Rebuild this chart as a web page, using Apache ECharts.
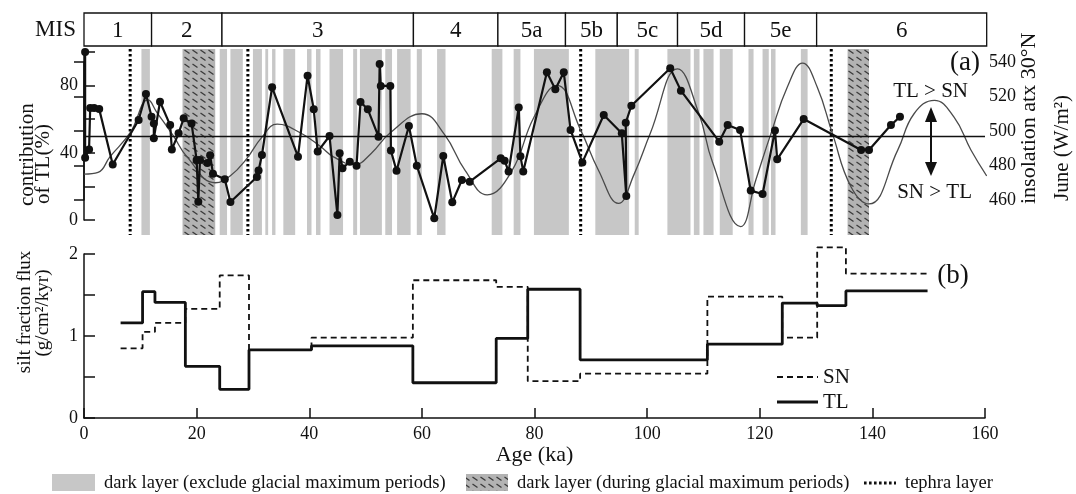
<!DOCTYPE html>
<html><head><meta charset="utf-8">
<script src="https://cdn.jsdelivr.net/npm/echarts@6/dist/echarts.min.js"></script>
<style>html,body{margin:0;padding:0;background:#fff}#c{width:1076px;height:494px}</style>
</head><body><div id="c"></div>
<script>
// ---------------- data ----------------
const misBounds = [0, 12, 24.5, 58.5, 73.5, 85.5, 94.7, 105.4, 117.3, 130.1, 160.3];
const misLabels = ['1','2','3','4','5a','5b','5c','5d','5e','6'];
const grayBands = [[10.2,11.7],[24.1,25.4],[26,28.2],[30,31.6],[32.2,32.7],[33.4,34],[35.4,37.5],[39.6,40.4],[41.2,42],[43.6,46],[47.8,48.5],[49,52.9],[53.5,54.7],[55.6,58],[59.1,60],[62.7,64.2],[72.4,74.3],[76.3,77.5],[79.9,86.1],[90.8,96.8],[97.8,98.5],[103.6,107.7],[108.3,109.3],[110,111.8],[112.9,115.2],[118,118.9],[120.5,121.6],[122,122.8],[127.3,128.5]];
const hatchBands = [[17.5,23.3],[135.6,139.4]];
const tephraAges = [8.2, 29.1, 88.2, 132.7];
const tlContribution = [[0.2,100],[0.2,37],[0.9,42],[1.1,66.7],[1.8,66.7],[2.7,66],[5.1,33],[9.7,59.5],[11,75],[12,61.5],[12.4,57.5],[12.4,48.6],[13.5,70.4],[15.3,56.5],[15.6,42],[16.8,51.6],[17.7,60.5],[19.1,57.5],[20,35.7],[20.3,10.9],[20.6,35.7],[21.9,34],[22.4,38.5],[22.9,27.6],[25,24.3],[26,10.7],[30.7,25.6],[31,29.5],[31.6,38.7],[33.4,79],[38,37.7],[39.7,85.9],[40.8,65.9],[41.5,40.7],[43.6,50],[45,3],[45.4,39.7],[45.9,30.8],[47.2,34.7],[48.4,32.3],[49.1,70.2],[50.4,65.9],[52.3,49.6],[52.5,92.9],[52.7,79.8],[54.4,79.8],[54.5,41.3],[55.5,29.3],[57.7,56],[59.1,32.3],[62.2,1],[63.8,38.1],[65.4,10.5],[67.1,23.8],[68.5,22.8],[74,36.7],[74.7,35.3],[75.4,28.8],[77.2,67],[77.5,38],[78,28.8],[82.2,87.9],[83.7,77.8],[85.2,87.9],[86.4,53.6],[88.5,34.3],[92.3,62.5],[95.5,51.6],[96.3,14.3],[96.2,57.9],[97.2,68],[104.1,90.3],[106,77],[112.8,46.6],[114.3,56.5],[116.5,53.6],[118.4,17.5],[120.5,15.5],[122.7,53.2],[123.1,36.1],[127.8,60.1],[138,41.7],[139.4,41.7],[143.3,56.5],[144.9,61.5]];
const insolation = [[0,475],[2.5,476],[4.6,485],[8.2,499],[11.4,518],[12.9,511],[15.9,497],[18.3,485],[23.3,470],[26,474],[28.9,484],[31.5,496],[34.3,504],[38.4,499],[42,491],[44.3,485],[48,480.5],[51,487],[54.4,499],[60,510],[64,498],[67.7,477],[71.6,463],[76,477],[79.9,508],[84,526.5],[88.2,500.5],[91.4,477],[94.9,458],[97.7,475],[100.6,499],[105.4,536],[109.2,510],[111.6,482],[116.6,444.6],[119.3,471.6],[122,498.6],[124.9,525.5],[127.6,539.4],[130.2,525.5],[132.9,498.6],[136.2,467.7],[139.4,457.7],[144.5,488.9],[147.4,510],[151,517.8],[154.5,508],[157.5,489],[160.3,474]];
const stepEdges = [6.5, 10.4, 12.6, 18, 24.1, 29.3, 40.4, 58.4, 73.2, 78.8, 88.1, 110.7, 124, 130.2, 135.3, 149.8];
const tlFlux = [1.16, 1.54, 1.41, 0.63, 0.35, 0.83, 0.88, 0.43, 0.97, 1.57, 0.71, 0.90, 1.40, 1.37, 1.55];
const snFlux = [0.85, 1.05, 1.16, 1.33, 1.74, 0.83, 0.98, 1.68, 1.60, 0.45, 0.54, 1.48, 0.98, 2.08, 1.76];
const ageTicks = [0, 20, 40, 60, 80, 100, 120, 140, 160];

// ---------------- helpers ----------------
const SERIF = '"Liberation Serif", "DejaVu Serif", serif';
function makeHatch() {
  const c = document.createElement('canvas');
  c.width = 8; c.height = 7;
  const g = c.getContext('2d');
  g.fillStyle = '#b3b3b3'; g.fillRect(0, 0, 8, 7);
  g.strokeStyle = '#3a3a3a'; g.lineWidth = 1.3;
  g.beginPath(); g.moveTo(0.5, 1); g.lineTo(5.5, 4.5); g.stroke();
  return c;
}
const hatchFill = { image: makeHatch(), repeat: 'repeat' };
function stepData(edges, vals) {
  const d = [];
  for (let i = 0; i < vals.length; i++) d.push([edges[i], vals[i]]);
  d.push([edges[edges.length - 1], vals[vals.length - 1]]);
  return d;
}
const G = { left: 84, right: 91 };
const hiddenX = (gi) => ({ type: 'value', gridIndex: gi, min: 0, max: 160, show: false });
const bandRender = (fill) => (params, api) => {
  const s = api.coord([api.value(0), 1]);
  const e = api.coord([api.value(1), 0]);
  return { type: 'rect', shape: { x: s[0], y: s[1], width: e[0] - s[0], height: e[1] - s[1] }, style: { fill: fill } };
};

const chart = echarts.init(document.getElementById('c'), null, { renderer: 'canvas' });
chart.setOption({
  backgroundColor: '#fff',
  animation: false,
  grid: [
    { left: G.left, right: G.right, top: 13, height: 33, outerBoundsMode: 'none' },
    { left: G.left, right: G.right, top: 49, height: 186, outerBoundsMode: 'none' },
    { left: G.left, right: G.right, top: 52, height: 168, outerBoundsMode: 'none' },
    { left: G.left, right: G.right, top: 62, height: 138, outerBoundsMode: 'none' },
    { left: G.left, right: G.right, top: 254, height: 164, outerBoundsMode: 'none' }
  ],
  xAxis: [
    hiddenX(0), hiddenX(1), hiddenX(2), hiddenX(3),
    { type: 'value', gridIndex: 4, min: 0, max: 160, interval: 20,
      axisLine: { lineStyle: { color: '#111', width: 1.5 } },
      axisTick: { inside: true, length: 10, lineStyle: { color: '#111', width: 1.5 } },
      axisLabel: { color: '#111', fontFamily: SERIF, fontSize: 18, margin: 7 },
      splitLine: { show: false },
      name: 'Age (ka)', nameLocation: 'middle', nameGap: 15,
      nameTextStyle: { color: '#111', fontFamily: SERIF, fontSize: 22, padding: [0, 0, 0, 0] } }
  ],
  yAxis: [
    { type: 'value', gridIndex: 0, min: 0, max: 1, show: false },
    { type: 'value', gridIndex: 1, min: 0, max: 1, show: false },
    { type: 'value', gridIndex: 2, min: 0, max: 100, interval: 20,
      axisLine: { show: true, lineStyle: { color: '#111', width: 1.5 } },
      axisTick: { show: true, inside: true, length: 11, lineStyle: { color: '#111', width: 1.5 } },
      axisLabel: { color: '#111', fontFamily: SERIF, fontSize: 18, margin: 6,
        formatter: v => (v % 40 === 0 && v < 100) ? String(v) : '' },
      splitLine: { show: false } },
    { type: 'value', gridIndex: 3, min: 460, max: 540, interval: 20, position: 'right',
      axisLine: { show: true, lineStyle: { color: '#111', width: 1.5 } },
      axisTick: { show: true, inside: true, length: 10, lineStyle: { color: '#111', width: 1.5 } },
      axisLabel: { color: '#111', fontFamily: SERIF, fontSize: 18, margin: 4 },
      splitLine: { show: false } },
    { type: 'value', gridIndex: 4, min: 0, max: 2, interval: 0.5,
      axisLine: { show: true, lineStyle: { color: '#111', width: 1.5 } },
      axisTick: { show: true, inside: true, length: 11, lineStyle: { color: '#111', width: 1.5 } },
      axisLabel: { color: '#111', fontFamily: SERIF, fontSize: 18, margin: 6,
        formatter: v => Number.isInteger(v) ? String(v) : '' },
      splitLine: { show: false } }
  ],
  series: [
    { name: 'gray', type: 'custom', xAxisIndex: 1, yAxisIndex: 1, z: 1,
      renderItem: bandRender('#c7c7c7'), encode: { x: [0, 1] }, data: grayBands, silent: true },
    { name: 'hatch', type: 'custom', xAxisIndex: 1, yAxisIndex: 1, z: 1,
      renderItem: bandRender(hatchFill), encode: { x: [0, 1] }, data: hatchBands, silent: true },
    { name: 'tephra', type: 'custom', xAxisIndex: 1, yAxisIndex: 1, z: 2,
      renderItem: (params, api) => {
        const a = api.coord([api.value(0), 1]);
        const b = api.coord([api.value(0), 0]);
        return { type: 'line', shape: { x1: a[0], y1: a[1], x2: b[0], y2: b[1] },
          style: { stroke: '#000', lineWidth: 3, lineDash: [2.6, 2.4] } };
      }, encode: { x: 0 }, data: tephraAges.map(v => [v]), silent: true },
    { name: 'MIS', type: 'custom', xAxisIndex: 0, yAxisIndex: 0, z: 3,
      renderItem: (params, api) => {
        const s = api.coord([api.value(0), 1]);
        const e = api.coord([api.value(1), 0]);
        return { type: 'group', children: [
          { type: 'rect', shape: { x: s[0], y: s[1], width: e[0] - s[0], height: e[1] - s[1] },
            style: { fill: '#fff', stroke: '#111', lineWidth: 1.3 } },
          { type: 'text', style: { text: misLabels[params.dataIndex], x: (s[0] + e[0]) / 2, y: (s[1] + e[1]) / 2 + 1,
            textAlign: 'center', textVerticalAlign: 'middle', align: 'center', verticalAlign: 'middle',
            font: '23px ' + SERIF, fill: '#111' } }
        ] };
      }, encode: { x: [0, 1] },
      data: misLabels.map((l, i) => [misBounds[i], misBounds[i + 1]]), silent: true },
    { name: 'insolation', type: 'line', xAxisIndex: 3, yAxisIndex: 3, z: 4, data: insolation,
      smooth: 0.45, showSymbol: false, clip: false,
      lineStyle: { color: '#4a4a4a', width: 1.3 } },
    { name: 'TL contribution', type: 'line', xAxisIndex: 2, yAxisIndex: 2, z: 5, data: tlContribution,
      symbol: 'circle', symbolSize: 8, clip: false,
      itemStyle: { color: '#111' }, lineStyle: { color: '#111', width: 2.2 },
      markLine: { silent: true, symbol: 'none', label: { show: false },
        lineStyle: { color: '#111', width: 1.4, type: 'solid' }, data: [{ yAxis: 50 }] } },
    { name: 'SN', type: 'line', xAxisIndex: 4, yAxisIndex: 4, z: 5, step: 'end', clip: false,
      data: stepData(stepEdges, snFlux), showSymbol: false,
      lineStyle: { color: '#111', width: 1.8, type: [6, 4] } },
    { name: 'TL', type: 'line', xAxisIndex: 4, yAxisIndex: 4, z: 6, step: 'end', clip: false,
      data: stepData(stepEdges, tlFlux), showSymbol: false,
      lineStyle: { color: '#111', width: 2.8 } }
  ],
  graphic: [
    { type: 'text', x: 76, y: 30, style: { text: 'MIS', font: '23px ' + SERIF, fill: '#111', textAlign: 'right', textVerticalAlign: 'middle' } },
    { type: 'text', x: 27, y: 206, rotation: Math.PI / 2, style: { text: 'contribution', font: '21px ' + SERIF, fill: '#111', textAlign: 'left', textVerticalAlign: 'middle' } },
    { type: 'text', x: 43, y: 204, rotation: Math.PI / 2, style: { text: 'of TL(%)', font: '21px ' + SERIF, fill: '#111', textAlign: 'left', textVerticalAlign: 'middle' } },
    { type: 'text', x: 25, y: 312, rotation: Math.PI / 2, style: { text: 'silt fraction flux', font: '19px ' + SERIF, fill: '#111', textAlign: 'center', textVerticalAlign: 'middle' } },
    { type: 'text', x: 43, y: 313, rotation: Math.PI / 2, style: { text: '(g/cm\u00B2/kyr)', font: '19px ' + SERIF, fill: '#111', textAlign: 'center', textVerticalAlign: 'middle' } },
    { type: 'text', x: 1029, y: 204, rotation: Math.PI / 2, style: { text: 'insolation atx 30\u00B0N', font: '22px ' + SERIF, fill: '#111', textAlign: 'left', textVerticalAlign: 'middle' } },
    { type: 'text', x: 1062, y: 201, rotation: Math.PI / 2, style: { text: 'June (W/m\u00B2)', font: '21px ' + SERIF, fill: '#111', textAlign: 'left', textVerticalAlign: 'middle' } },
    { type: 'text', x: 965, y: 63, style: { text: '(a)', font: '27px ' + SERIF, fill: '#111', textAlign: 'center', textVerticalAlign: 'middle' } },
    { type: 'text', x: 968, y: 91, style: { text: 'TL > SN', font: '21px ' + SERIF, fill: '#111', textAlign: 'right', textVerticalAlign: 'middle' } },
    { type: 'text', x: 972, y: 192, style: { text: 'SN > TL', font: '21px ' + SERIF, fill: '#111', textAlign: 'right', textVerticalAlign: 'middle' } },
    { type: 'line', shape: { x1: 931, y1: 116, x2: 931, y2: 168 }, style: { stroke: '#111', lineWidth: 2 } },
    { type: 'polygon', shape: { points: [[931, 107], [925, 122], [937, 122]] }, style: { fill: '#111' } },
    { type: 'polygon', shape: { points: [[931, 176], [925, 162], [937, 162]] }, style: { fill: '#111' } },
    { type: 'text', x: 953, y: 276, style: { text: '(b)', font: '27px ' + SERIF, fill: '#111', textAlign: 'center', textVerticalAlign: 'middle' } },
    { type: 'line', shape: { x1: 777, y1: 377, x2: 818, y2: 377 }, style: { stroke: '#111', lineWidth: 1.8, lineDash: [6, 4] } },
    { type: 'text', x: 823, y: 377, style: { text: 'SN', font: '21px ' + SERIF, fill: '#111', textAlign: 'left', textVerticalAlign: 'middle' } },
    { type: 'line', shape: { x1: 777, y1: 402, x2: 818, y2: 402 }, style: { stroke: '#111', lineWidth: 2.8 } },
    { type: 'text', x: 823, y: 402, style: { text: 'TL', font: '21px ' + SERIF, fill: '#111', textAlign: 'left', textVerticalAlign: 'middle' } },
    { type: 'rect', shape: { x: 52, y: 474, width: 43, height: 17 }, style: { fill: '#c7c7c7' } },
    { type: 'text', x: 104, y: 483, style: { text: 'dark layer (exclude glacial maximum periods)', font: '18.5px ' + SERIF, fill: '#111', textAlign: 'left', textVerticalAlign: 'middle' } },
    { type: 'rect', shape: { x: 466, y: 474, width: 42, height: 17 }, style: { fill: hatchFill } },
    { type: 'text', x: 517, y: 483, style: { text: 'dark layer (during glacial maximum periods)', font: '18.5px ' + SERIF, fill: '#111', textAlign: 'left', textVerticalAlign: 'middle' } },
    { type: 'line', shape: { x1: 864, y1: 483, x2: 896, y2: 483 }, style: { stroke: '#111', lineWidth: 3, lineDash: [2.6, 2.4] } },
    { type: 'text', x: 905, y: 483, style: { text: 'tephra layer', font: '18.5px ' + SERIF, fill: '#111', textAlign: 'left', textVerticalAlign: 'middle' } }
  ]
});
</script>
</body></html>
